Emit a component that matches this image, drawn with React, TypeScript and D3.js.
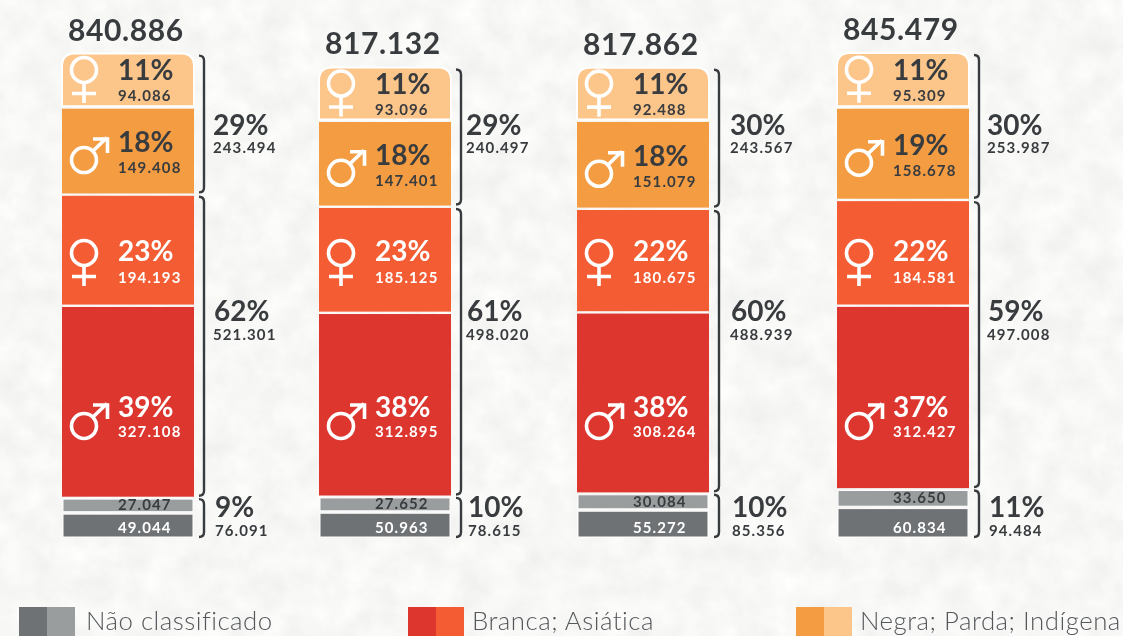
import React from "react";
import * as d3 from "d3";

const totals = [840886, 817132, 817862, 845479];
const pardaFemale = [94086, 93096, 92488, 95309];
const pardaMale = [149408, 147401, 151079, 158678];
const brancaFemale = [194193, 185125, 180675, 184581];
const brancaMale = [327108, 312895, 308264, 312427];
const naoLight = [27047, 27652, 30084, 33650];
const naoDark = [49044, 50963, 55272, 60834];
const pardaFemalePct = [11, 11, 11, 11];
const pardaMalePct = [18, 18, 18, 19];
const brancaFemalePct = [23, 23, 22, 22];
const brancaMalePct = [39, 38, 38, 37];
const pardaTotal = [243494, 240497, 243567, 253987];
const pardaPct = [29, 29, 30, 30];
const brancaTotal = [521301, 498020, 488939, 497008];
const brancaPct = [62, 61, 60, 59];
const naoTotal = [76091, 78615, 85356, 94484];
const naoPct = [9, 10, 10, 11];
const legendLabels = ["Não classificado", "Branca; Asiática", "Negra; Parda; Indígena"];

const W = 1123, H = 636;
const FONT = "Lato, 'Open Sans', sans-serif";
const DARK = "#393c3f";
const C = { pl: "#fcc58a", pm: "#f39c42", bf: "#f45c33", bm: "#dc362f", gl: "#9a9d9e", gd: "#6f7275" };
const num = d3.formatLocale({ decimal: ",", thousands: ".", grouping: [3], currency: ["", ""] }).format(",d");

const barLeft = d3.scaleOrdinal<number, number>().domain([0, 1, 2, 3]).range([62, 319, 577, 837]);
const sideLeft = d3.scaleOrdinal<number, number>().domain([0, 1, 2, 3]).range([213, 466, 730, 987]);
const barW = 132;
const bottom = 537;
const GAP = 2.4;
const hBm = d3.scaleLinear().domain([0, 100000]).range([0, 58]);
const hBf = d3.scaleLinear().domain([0, 100000]).range([0, 56]);
const hPm = d3.scaleLinear().domain([0, 100000]).range([0, 56.7]);
const hPf = d3.scaleLinear().domain([0, 100000]).range([0, 56]);
const hGrayDark = d3.scaleLinear().domain([0, 60000]).range([0, 28]);
const hGrayLight = d3.scaleLinear().domain([0, 30000]).range([0, 14]);
// Fixed text rows of the two red segments (they do not follow the segment centre in the reference).
const rowFemaleRed = 261;
const rowMaleRed = 417;

function Female({ x, cy }: { x: number; cy: number }) {
  return (
    <g fill="none" stroke="#fff" strokeWidth={3.6}>
      <circle cx={x} cy={cy - 10} r={12.5} />
      <path d={`M${x},${cy + 2.5}V${cy + 23}M${x - 12},${cy + 13.5}H${x + 12}`} />
    </g>
  );
}
function Male({ x, cy }: { x: number; cy: number }) {
  return (
    <g fill="none" stroke="#fff" strokeWidth={3.6}>
      <circle cx={x} cy={cy + 9} r={12.5} />
      <path d={`M${x + 9},${cy}L${x + 23},${cy - 13.5}M${x + 9},${cy - 12}H${x + 23.5}V${cy + 2}`} />
    </g>
  );
}
function Txt({ x, y, size, fill = DARK, weight = 700, spacing = 0, children }: any) {
  return (
    <text x={x} y={y} fontFamily={FONT} fontSize={size} fontWeight={weight} fill={fill} letterSpacing={spacing}>
      {children}
    </text>
  );
}
function Bracket({ x, y0, y1 }: { x: number; y0: number; y1: number }) {
  const p = d3.path();
  p.moveTo(x, y0);
  p.quadraticCurveTo(x + 5, y0, x + 5, y0 + 5);
  p.lineTo(x + 5, y1 - 5);
  p.quadraticCurveTo(x + 5, y1, x, y1);
  return <path d={p.toString()} fill="none" stroke={DARK} strokeWidth={2.4} />;
}

function Column({ i }: { i: number }) {
  const x = barLeft(i);
  const hd = hGrayDark(naoDark[i]);
  const hl = hGrayLight(naoLight[i]);
  const hbm = hBm(brancaMale[i]);
  const hbf = hBf(brancaFemale[i]);
  const hpm = hPm(pardaMale[i]);
  const hpf = hPf(pardaFemale[i]);
  const yd = bottom - hd;
  const yl = yd - GAP - hl;
  const ybm = yl - GAP - hbm;
  const ybf = ybm - GAP - hbf;
  const ypm = ybf - GAP - hpm;
  const ypf = ypm - GAP - hpf;
  const r = 13;
  const top = d3.path();
  top.moveTo(x, ypf + hpf);
  top.lineTo(x, ypf + r);
  top.quadraticCurveTo(x, ypf, x + r, ypf);
  top.lineTo(x + barW - r, ypf);
  top.quadraticCurveTo(x + barW, ypf, x + barW, ypf + r);
  top.lineTo(x + barW, ypf + hpf);
  top.closePath();
  const tx = x + 56;
  const ix = x + 22;
  const seg = (c: number, iconY: number, numGap: number, pct: number, v: number, fill: string, female: boolean) => (
    <g>
      {female ? <Female x={ix} cy={iconY} /> : <Male x={ix} cy={iconY} />}
      <Txt x={tx} y={c} size={28} fill={fill}>{pct}%</Txt>
      <Txt x={tx} y={c + numGap} size={15} fill={fill} spacing={1.1}>{num(v)}</Txt>
    </g>
  );
  const sx = sideLeft(i);
  const bx = x + barW + 5;
  const cpf = ypf + hpf / 2;
  const cpm = ypm + hpm / 2;
  return (
    <g>
      <Txt x={x + 6} y={ypf - 13} size={30} spacing={0.6}>{num(totals[i])}</Txt>
      <path d={top.toString()} fill={C.pl} stroke="#fff" strokeWidth={2} />
      <rect x={x} y={ypm} width={barW} height={hpm} fill={C.pm} />
      <rect x={x} y={ybf} width={barW} height={hbf} fill={C.bf} />
      <rect x={x} y={ybm} width={barW} height={hbm} fill={C.bm} />
      <rect x={x + 1} y={yl} width={barW - 2} height={hl} fill={C.gl} stroke="#fff" strokeWidth={1} />
      <rect x={x + 1} y={yd} width={barW - 2} height={hd} fill={C.gd} stroke="#fff" strokeWidth={1} />
      {seg(cpf, cpf, 21, pardaFemalePct[i], pardaFemale[i], DARK, true)}
      {seg(cpm + 1, cpm, 21, pardaMalePct[i], pardaMale[i], DARK, false)}
      {seg(rowFemaleRed, rowFemaleRed + 2, 22, brancaFemalePct[i], brancaFemale[i], "#fff", true)}
      {seg(rowMaleRed, rowMaleRed, 20, brancaMalePct[i], brancaMale[i], "#fff", false)}
      <Txt x={tx} y={yl + hl / 2 + 5} size={15} spacing={1.1}>{num(naoLight[i])}</Txt>
      <Txt x={tx} y={bottom - 4} size={15} fill="#fff" spacing={1.1}>{num(naoDark[i])}</Txt>
      <Bracket x={bx} y0={ypf + 2} y1={ypm + hpm - 1} />
      <Bracket x={bx} y0={ybf + 1} y1={ybm + hbm - 1} />
      <Bracket x={bx} y0={yl} y1={bottom} />
      <Txt x={sx} y={135} size={28}>{pardaPct[i]}%</Txt>
      <Txt x={sx} y={153} size={15} spacing={1.1}>{num(pardaTotal[i])}</Txt>
      <Txt x={sx + 1} y={321} size={28}>{brancaPct[i]}%</Txt>
      <Txt x={sx} y={340} size={15} spacing={1.1}>{num(brancaTotal[i])}</Txt>
      <Txt x={sx + 2} y={517} size={28}>{naoPct[i]}%</Txt>
      <Txt x={sx + 2} y={536} size={15} spacing={1.1}>{num(naoTotal[i])}</Txt>
    </g>
  );
}

const legendX = d3.scaleOrdinal<number, number>().domain([0, 1, 2]).range([19, 408, 796]);
const legendColors = [[C.gd, C.gl], [C.bm, C.bf], [C.pm, C.pl]];

export default function App() {
  return (
    <svg width={W} height={H} viewBox={`0 0 ${W} ${H}`} style={{ position: "fixed", left: 0, top: 0, display: "block" }}>
      <defs>
        <filter id="paper" x="0" y="0" width="100%" height="100%" colorInterpolationFilters="sRGB">
          <feTurbulence type="fractalNoise" baseFrequency="0.035" numOctaves={4} seed={7} />
          <feColorMatrix type="matrix" values="0.07 0 0 0 0.935  0.07 0 0 0 0.935  0.07 0 0 0 0.93  0 0 0 0 1" />
        </filter>
      </defs>
      <rect width={W} height={H} fill="#f8f8f7" filter="url(#paper)" />
      {totals.map((_, i) => <Column key={i} i={i} />)}
      {legendLabels.map((l, i) => {
        const x = legendX(i);
        return (
          <g key={l}>
            <rect x={x} y={607} width={28} height={29} fill={legendColors[i][0]} />
            <rect x={x + 28} y={607} width={28} height={29} fill={legendColors[i][1]} />
            <Txt x={x + 64 + (i === 0 ? 3 : 0)} y={630} size={25.8} fill="#55585b" weight={300} spacing={0.5}>{l}</Txt>
          </g>
        );
      })}
    </svg>
  );
}
